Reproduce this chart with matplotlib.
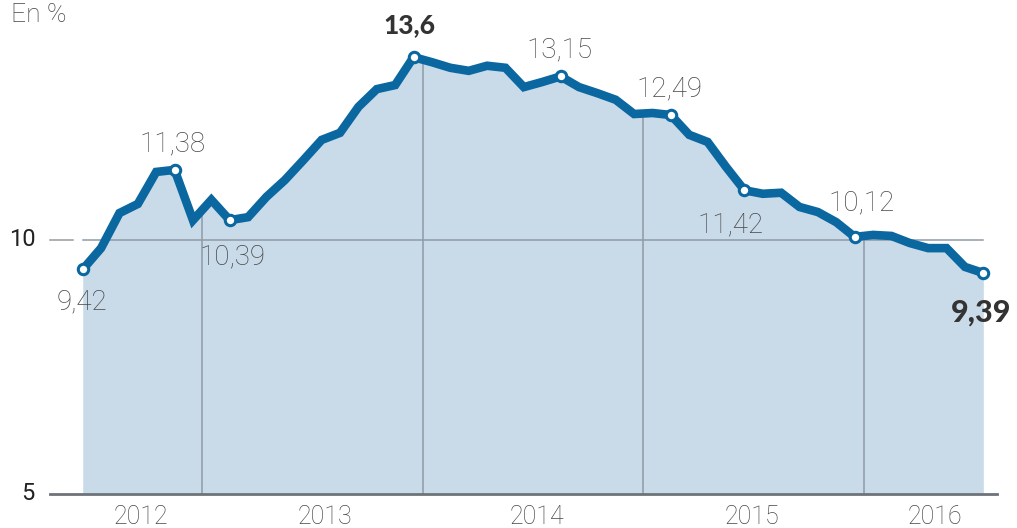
import matplotlib
matplotlib.use("Agg")
import matplotlib.pyplot as plt
import numpy as np

# Monthly values, June 2012 -> July 2016
values = [9.42, 9.84, 10.53, 10.71, 11.34, 11.38, 10.39, 10.79, 10.39, 10.45,
          10.85, 11.18, 11.57, 11.97, 12.11, 12.62, 12.97, 13.05, 13.60, 13.50,
          13.39, 13.33, 13.43, 13.39, 13.01, 13.11, 13.22, 13.01, 12.89, 12.76,
          12.48, 12.50, 12.46, 12.07, 11.93, 11.44, 10.98, 10.91, 10.93, 10.65,
          10.55, 10.35, 10.06, 10.10, 10.08, 9.94, 9.84, 9.84, 9.47, 9.35]

# Annotated points: index, label text, bold?
label_idx = [0, 5, 8, 18, 26, 32, 36, 42, 49]
label_txt = ["9,42", "11,38", "10,39", "13,6", "13,15", "12,49", "11,42", "10,12", "9,39"]
label_bold = [False, False, False, True, False, False, False, False, True]

years = ["2012", "2013", "2014", "2015", "2016"]
year_bounds = [6.5, 18.5, 30.5, 42.5]   # boundaries between years (month index)
yticks = [5, 10]

LINE = "#0a67a0"
FILL = "#c9dbe9"
GRID = "#8f9aa5"
TXT = "#474747"

W, H = 1017, 528
fig = plt.figure(figsize=(W / 100, H / 100), dpi=100)
ax = fig.add_axes([0, 0, 1, 1])
ax.axis("off")

# pixel mapping: index 0 -> 82.7px, step 18.38px ; y=10 -> 240px, 50.8px/unit
step = 18.38
x0 = 82.7
ax.set_xlim(-x0 / step, (W - x0) / step)
ax.set_ylim(10 - (H - 240) / 50.8, 10 + 240 / 50.8)

def px_x(px):
    return (px - x0) / step

def px_y(py):
    return 10 + (240 - py) / 50.8

x = np.arange(len(values))
y = np.array(values)

ax.fill_between(x, yticks[0], y, color=FILL, lw=0, zorder=1)

# vertical year separators (inside filled area)
for b in year_bounds:
    top = np.interp(b, x, y)
    ax.plot([b, b], [yticks[0], top], color=GRID, lw=1.1, zorder=2)

# horizontal gridline at 10 and tick
ax.plot([0, len(values) - 1], [yticks[1], yticks[1]], color=GRID, lw=1.1, zorder=2)
ax.plot([px_x(50), px_x(73)], [yticks[1], yticks[1]], color="#9a9a9a", lw=1.1, zorder=2)

# baseline at 5
ax.plot([px_x(50), px_x(997)], [yticks[0], yticks[0]], color="#6e737a", lw=2, zorder=3)

# line
ax.plot(x, y, color=LINE, lw=6.2, solid_joinstyle="miter", solid_capstyle="butt", zorder=4)
ax.plot(x[label_idx], y[label_idx], "o", ms=7.5, mfc="white", mec=LINE, mew=2.2, zorder=5)

# y tick labels
ax.text(px_x(22), yticks[1], str(yticks[1]), ha="center", va="center", fontsize=17,
        color="#222222", family="Roboto")
ax.text(px_x(28), yticks[0], str(yticks[0]), ha="center", va="center", fontsize=17,
        color="#222222", family="Roboto")
ax.text(px_x(11), px_y(22), "En %", ha="left", va="baseline",
        fontsize=19, color=TXT, family="Roboto", fontweight="light")

# year labels
year_px = [141, 325, 537, 752, 935]
for yr, px in zip(years, year_px):
    ax.text(px_x(px), px_y(517), yr, ha="center", va="center",
            fontsize=18, color=TXT, family="Roboto", fontweight="light")

# annotation positions (pixel centers)
lab_px = [(82, 302), (173, 144), (232, 257), (409, 25), (559, 50),
          (669, 89), (730, 225), (862, 203), (981, 313)]
for txt, bold, (px, py) in zip(label_txt, label_bold, lab_px):
    if bold:
        ax.text(px_x(px), px_y(py), txt, ha="center", va="center",
                fontsize=19 if txt == "13,6" else 22,
                color="#333333", family="Lato", fontweight="black", zorder=6)
    else:
        ax.text(px_x(px), px_y(py), txt, ha="center", va="center", fontsize=20,
                color=TXT, family="Roboto", fontweight="light", zorder=6)

fig.savefig("out.png", dpi=100)
